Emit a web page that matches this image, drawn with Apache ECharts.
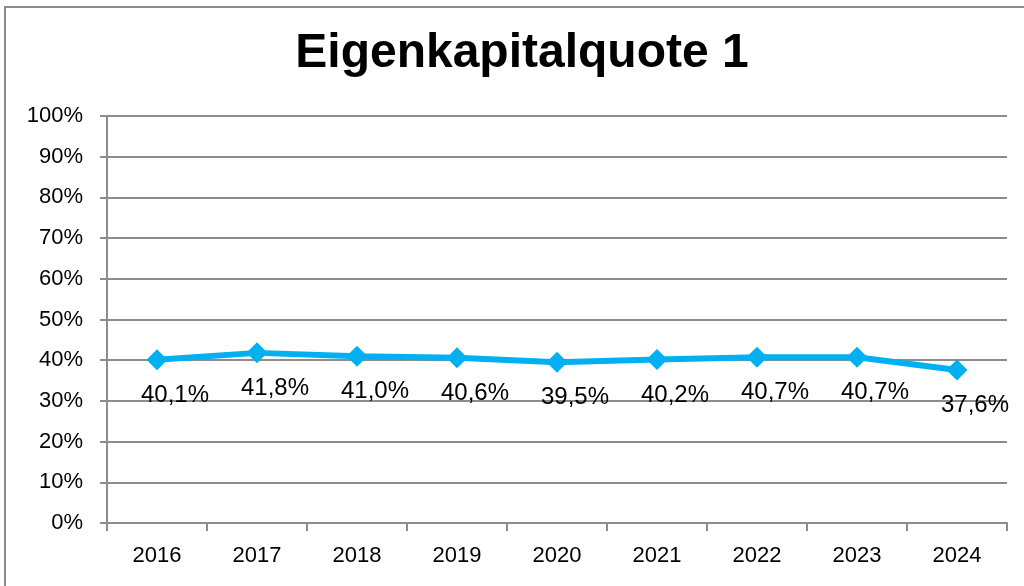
<!DOCTYPE html>
<html>
<head>
<meta charset="utf-8">
<script src="https://cdn.jsdelivr.net/npm/echarts@6/dist/echarts.min.js"></script>
<style>html,body{margin:0;padding:0;background:#fff}#c{width:1024px;height:586px}</style>
</head>
<body>
<div id="c"></div>
<script>
const chartTitle = 'Eigenkapitalquote 1';
const years = ['2016','2017','2018','2019','2020','2021','2022','2023','2024'];
const quote = [40.1, 41.8, 41.0, 40.6, 39.5, 40.2, 40.7, 40.7, 37.6];
const yMin = 0, yMax = 100, yStep = 10;

const chart = echarts.init(document.getElementById('c'), null, {renderer: 'canvas'});
const gray = '#8c8c8c';
chart.setOption({
  animation: false,
  backgroundColor: '#fff',
  graphic: [
    {type: 'rect', shape: {x: 5, y: 7, width: 1040, height: 600}, style: {fill: 'none', stroke: gray, lineWidth: 2}, silent: true},
    {type: 'text', x: 522, y: 54, style: {text: chartTitle, font: 'bold 48px "Liberation Sans", Arial, sans-serif', fill: '#000', textAlign: 'center', textVerticalAlign: 'middle'}}
  ],
  grid: {left: 107, right: 17, top: 116, bottom: 63, containLabel: false},
  xAxis: {
    type: 'category', data: years, boundaryGap: true,
    axisLine: {show: true, lineStyle: {color: gray, width: 2}},
    axisTick: {show: true, length: 8, inside: false, lineStyle: {color: gray, width: 2}},
    axisLabel: {margin: 22, color: '#000', fontSize: 22, fontFamily: '"Liberation Sans", Arial, sans-serif'},
    splitLine: {show: false}
  },
  yAxis: {
    type: 'value', min: yMin, max: yMax, interval: yStep,
    axisLine: {show: true, lineStyle: {color: gray, width: 2}},
    axisTick: {show: true, length: 7, lineStyle: {color: gray, width: 2}},
    axisLabel: {margin: 24, color: '#000', fontSize: 22, fontFamily: '"Liberation Sans", Arial, sans-serif', formatter: v => v + '%'},
    splitLine: {show: true, lineStyle: {color: gray, width: 2}}
  },
  series: [{
    type: 'line', data: quote,
    lineStyle: {color: '#00B0F0', width: 6},
    itemStyle: {color: '#00B0F0'},
    symbol: 'diamond', symbolSize: 21,
    label: {
      show: true, position: 'bottom', distance: 13, offset: [18, 0],
      color: '#000', fontSize: 24, fontFamily: '"Liberation Sans", Arial, sans-serif',
      formatter: p => p.value.toFixed(1).replace('.', ',') + '%'
    }
  }]
});
</script>
</body>
</html>
